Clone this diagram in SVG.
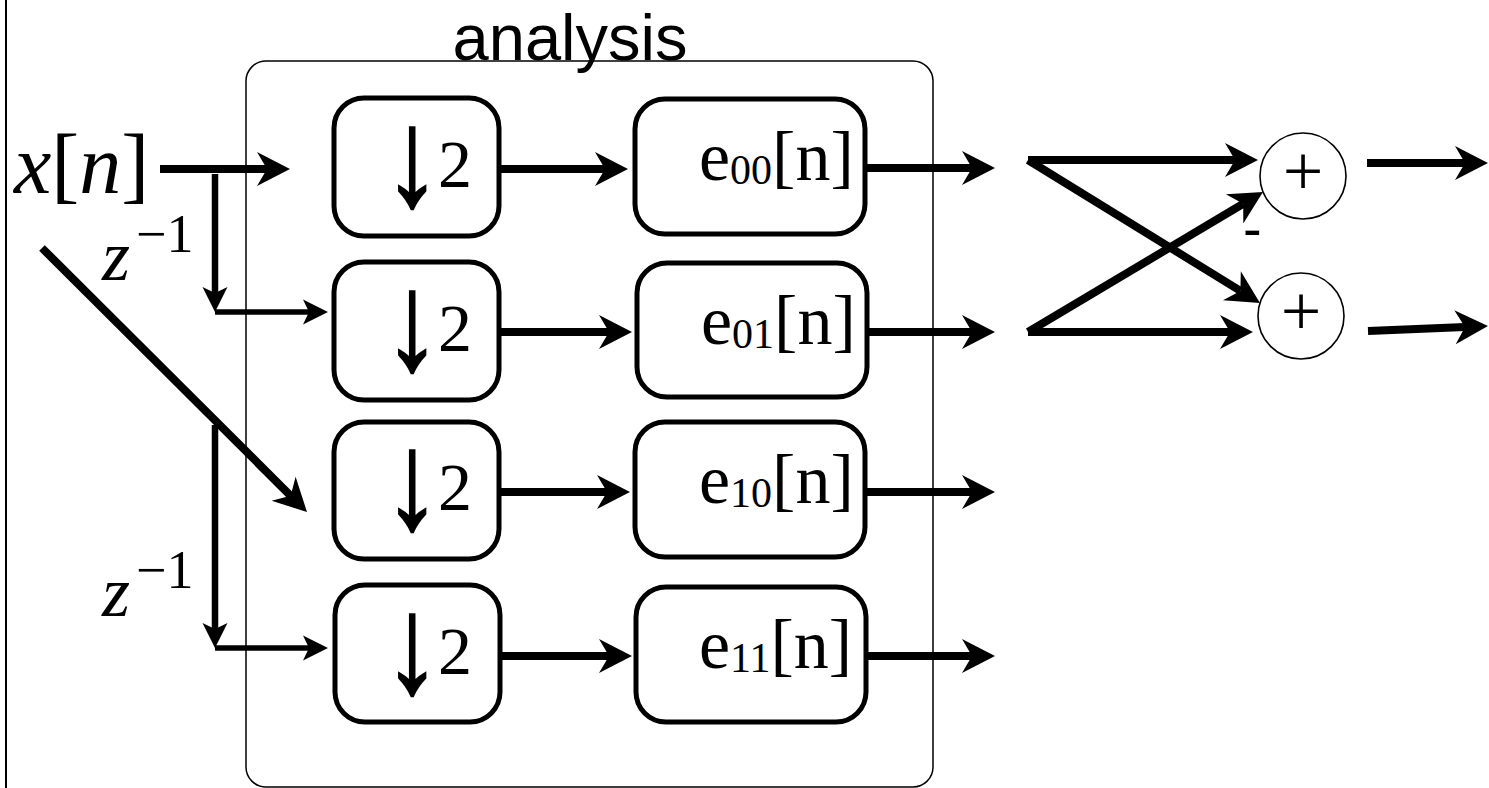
<svg xmlns="http://www.w3.org/2000/svg" width="1489" height="788" viewBox="0 0 1489 788">
<defs>
<style>
.box{fill:#fff;stroke:#000;stroke-width:5}
.cont{fill:none;stroke:#000;stroke-width:1.5}
.circ{fill:#fff;stroke:#000;stroke-width:1.6}
.ln{fill:none;stroke:#000;stroke-width:8}
.ln6{fill:none;stroke:#000;stroke-width:6.5}
.ln5{fill:none;stroke:#000;stroke-width:5.5}
.serif{font-family:"Liberation Serif","DejaVu Serif",serif;fill:#000}
.sans{font-family:"Liberation Sans",Arial,sans-serif;fill:#000}
.arr{font-family:"Liberation Sans",Arial,sans-serif;font-size:138px;text-anchor:middle;fill:#000;stroke:#000;stroke-width:2.2;stroke-linejoin:miter}
</style>
<marker id="big" markerUnits="userSpaceOnUse" markerWidth="40" markerHeight="40" refX="0" refY="0" orient="auto" overflow="visible">
<path d="M23,0 L-10,-17 L0,0 L-10,17 Z" fill="#000"/>
</marker>
<marker id="small" markerUnits="userSpaceOnUse" markerWidth="30" markerHeight="30" refX="0" refY="0" orient="auto" overflow="visible">
<path d="M19,0 L-6,-12.5 L0,0 L-6,12.5 Z" fill="#000"/>
</marker>
</defs>

<line x1="6" y1="0" x2="6" y2="788" stroke="#000" stroke-width="2"/>

<g id="container">
<rect class="cont" x="246" y="61" width="687" height="726" rx="20"/>
<text class="sans" x="570" y="60" font-size="65" text-anchor="middle">analysis</text>
</g>

<g id="input-label">
<text class="serif" x="14" y="193" font-size="84"><tspan font-style="italic">x</tspan>[<tspan font-style="italic">n</tspan>]</text>
</g>
<g id="delay1">
<text class="serif" x="102" y="280" font-size="72"><tspan font-style="italic">z</tspan><tspan font-size="54" dx="6" dy="-28">−1</tspan></text>
</g>
<g id="delay2">
<text class="serif" x="102" y="616" font-size="72"><tspan font-style="italic">z</tspan><tspan font-size="54" dx="6" dy="-28">−1</tspan></text>
</g>

<g id="down1"><rect class="box" x="334" y="98" width="165" height="138" rx="30"/><text class="arr" transform="translate(412,205) scale(0.82,1)">↓</text><text class="serif" x="438" y="187" font-size="68">2</text></g>
<g id="down2"><rect class="box" x="334" y="262" width="165" height="138" rx="30"/><text class="arr" transform="translate(412,369) scale(0.82,1)">↓</text><text class="serif" x="438" y="351" font-size="68">2</text></g>
<g id="down3"><rect class="box" x="334" y="422" width="165" height="137" rx="30"/><text class="arr" transform="translate(412,528) scale(0.82,1)">↓</text><text class="serif" x="438" y="510" font-size="68">2</text></g>
<g id="down4"><rect class="box" x="335" y="585" width="165" height="137" rx="30"/><text class="arr" transform="translate(412,692) scale(0.82,1)">↓</text><text class="serif" x="438" y="674" font-size="68">2</text></g>

<g id="e00"><rect class="box" x="635" y="99" width="230" height="135" rx="30"/><text class="serif" x="699" y="180" font-size="70">e<tspan font-size="42" dy="4">00</tspan><tspan dy="-4">[n]</tspan></text></g>
<g id="e01"><rect class="box" x="637" y="263" width="230" height="134" rx="30"/><text class="serif" x="701" y="344" font-size="70">e<tspan font-size="42" dy="4">01</tspan><tspan dy="-4">[n]</tspan></text></g>
<g id="e10"><rect class="box" x="635" y="422" width="230" height="135" rx="30"/><text class="serif" x="699" y="503" font-size="70">e<tspan font-size="42" dy="4">10</tspan><tspan dy="-4">[n]</tspan></text></g>
<g id="e11"><rect class="box" x="636" y="587" width="230" height="135" rx="30"/><text class="serif" x="699" y="668" font-size="70">e<tspan font-size="42" dy="4">11</tspan><tspan dy="-4">[n]</tspan></text></g>

<g id="sum1"><circle class="circ" cx="1303" cy="176" r="43"/><text class="serif" x="1303" y="195" font-size="72" text-anchor="middle">+</text></g>
<g id="sum2"><circle class="circ" cx="1301" cy="316" r="43"/><text class="serif" x="1301" y="335" font-size="72" text-anchor="middle">+</text></g>
<g id="minus-label"><text class="sans" x="1243" y="248" font-size="56">-</text></g>

<g id="connectors">
<line class="ln" x1="160" y1="169" x2="267" y2="169" marker-end="url(#big)"/>
<line class="ln6" x1="215" y1="174" x2="215" y2="293" marker-end="url(#small)"/>
<line class="ln5" x1="215" y1="312" x2="309" y2="312" marker-end="url(#small)"/>
<line class="ln" x1="42" y1="248" x2="290.7" y2="495.8" marker-end="url(#big)"/>
<line class="ln6" x1="215" y1="425" x2="215" y2="629" marker-end="url(#small)"/>
<line class="ln5" x1="215" y1="648" x2="309" y2="648" marker-end="url(#small)"/>

<line class="ln" x1="499" y1="169" x2="605" y2="169" marker-end="url(#big)"/>
<line class="ln" x1="499" y1="332" x2="609" y2="332" marker-end="url(#big)"/>
<line class="ln" x1="499" y1="492" x2="607" y2="492" marker-end="url(#big)"/>
<line class="ln" x1="500" y1="656" x2="609" y2="656" marker-end="url(#big)"/>

<line class="ln" x1="865" y1="168" x2="972" y2="168" marker-end="url(#big)"/>
<line class="ln" x1="867" y1="332" x2="972" y2="332" marker-end="url(#big)"/>
<line class="ln" x1="865" y1="492" x2="972" y2="492" marker-end="url(#big)"/>
<line class="ln" x1="866" y1="656" x2="972" y2="656" marker-end="url(#big)"/>

<line class="ln" x1="1028" y1="160" x2="1235" y2="160" marker-end="url(#big)"/>
<line class="ln" x1="1028" y1="160" x2="1240.4" y2="290.9" marker-end="url(#big)"/>
<line class="ln" x1="1028" y1="332" x2="1230" y2="332" marker-end="url(#big)"/>
<line class="ln" x1="1028" y1="332" x2="1243.2" y2="203.8" marker-end="url(#big)"/>

<line class="ln" x1="1367" y1="163" x2="1465" y2="163" marker-end="url(#big)"/>
<line class="ln" x1="1368" y1="331" x2="1465" y2="326.9" marker-end="url(#big)"/>
</g>
</svg>
